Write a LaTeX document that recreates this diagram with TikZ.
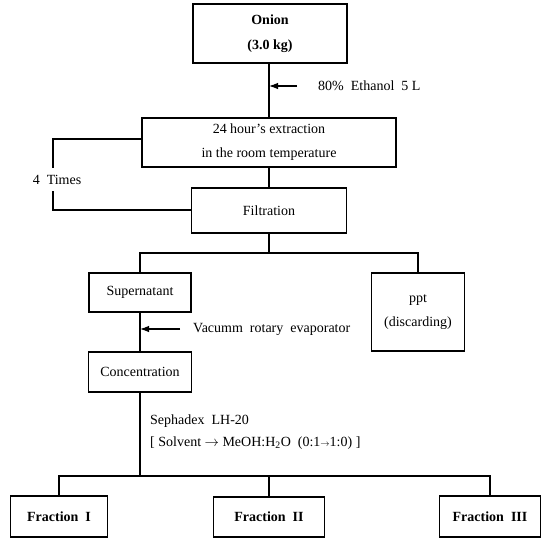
\documentclass[tikz,border=0pt]{standalone}
\usepackage{fontspec}
\setmainfont{Liberation Serif}
\usetikzlibrary{arrows.meta}
\tikzset{
  box/.style={draw, line width=1.1pt, inner sep=0pt, align=center, font=\fontsize{14}{24}\selectfont},
  bbox/.style={box, font=\fontsize{14}{25}\selectfont\bfseries},
  conn/.style={line width=1.2pt},
  feed/.style={line width=1.1pt, -{Latex[length=9pt,width=6.5pt]}},
  lbl/.style={inner sep=0pt, anchor=west, font=\fontsize{14}{16}\selectfont}
}
\begin{document}
\begin{tikzpicture}[x=1pt,y=-1pt]
\useasboundingbox[fill=white] (0,0) rectangle (545,544);
% boxes
\node[bbox, minimum width=154pt, minimum height=59pt] (onion) at (270,33.5) {Onion\\(3.0 kg)};
\node[box, minimum width=254pt, minimum height=49pt] (extr) at (269,142.5) {24 hour's extraction\\in the room temperature};
\node[box, minimum width=155pt, minimum height=45pt] (filt) at (269,210.5) {Filtration};
\node[box, minimum width=102pt, minimum height=39pt] (super) at (140,292.5) {Supernatant};
\node[box, minimum width=93pt, minimum height=78pt] (ppt) at (418,312) {ppt\\(discarding)};
\node[box, minimum width=103pt, minimum height=40pt] (conc) at (140,372) {Concentration};
\node[bbox, minimum width=97pt, minimum height=41pt] (f1) at (59,516.5) {Fraction\ \ I};
\node[bbox, minimum width=111pt, minimum height=40pt] (f2) at (269,517) {Fraction\ \ II};
\node[bbox, minimum width=101pt, minimum height=41pt] (f3) at (490,516.5) {Fraction\ \ III};
% labels
\node[lbl] (eth) at (318,86) {80\%\ \ Ethanol\ \ 5 L};
\node[lbl, anchor=center] (times) at (57,180) {4\ \ Times};
\node[lbl] (vac) at (193,329) {Vacumm\ \ rotary\ \ evaporator};
\node[lbl] (seph) at (150,421) {Sephadex\ \ LH-20};
\node[lbl] (solv) at (150,443) {[\ Solvent $\rightarrow$ MeOH:H\textsubscript{2}O\ \ (0:1{\small$\rightarrow$}1:0)\ ]};
% coordinates
\coordinate (ea) at (297,86);
\coordinate (lt) at (53,139);
\coordinate (g1) at (53,168);
\coordinate (g2) at (53,191);
\coordinate (lb) at (53,210);
\coordinate (br) at (269,253);
\coordinate (va) at (180,329);
\coordinate (hl) at (60,476);
% connectors
\draw[conn] (onion.south -| extr.north) -- (extr.north);
\draw[feed] (ea) -- (ea -| extr.north);
\draw[conn] (extr.south) -- (filt.north);
\draw[conn] (extr.west |- lt) -- (lt) -- (g1);
\draw[conn] (g2) -- (lb) -- (filt.west |- lb);
\draw[conn] (filt.south) -- (br);
\draw[conn] (super.north) |- (br);
\draw[conn] (ppt.north) |- (br);
\draw[conn] (super.south) -- (conc.north);
\draw[feed] (va) -- (va -| super.south);
\draw[conn] (conc.south) -- (conc.south |- hl);
\draw[conn] (f1.north) -- (f1.north |- hl) -- (f3.north |- hl) -- (f3.north);
\draw[conn] (f2.north) -- (f2.north |- hl);
\end{tikzpicture}
\end{document}
